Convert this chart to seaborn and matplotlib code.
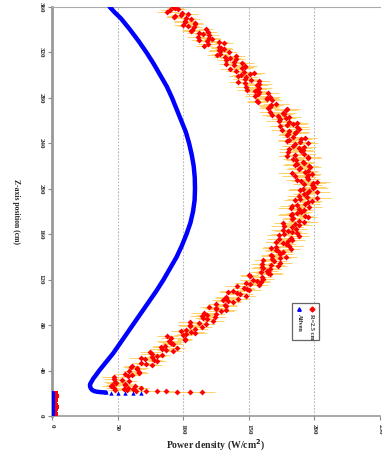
import matplotlib
matplotlib.use("Agg")
import matplotlib.pyplot as plt
import seaborn as sns
from matplotlib.patches import Rectangle

# ---- simulated profile (blue) ----
blue_wall_z = [0, 4, 8, 12, 16, 20.5]
blue_wall_v = [0.5, 0.5, 0.5, 0.5, 0.5, 0.5]

blue_edge_z = [20.0, 20.1, 20.2, 20.35, 20.5, 20.7]
blue_edge_v = [68, 62, 56, 50, 45, 41]

blue_z = [20.7, 21.0, 21.4, 22, 23, 24.5, 26, 28, 30, 33, 36, 40, 45, 50, 55, 60,
          70, 80, 90, 100, 110, 120, 130, 140, 150, 160, 170, 180, 190, 200,
          210, 220, 230, 240, 250, 260, 270, 280, 290, 300, 310, 320, 330, 340,
          350, 355, 360]
blue_v = [41, 37, 34, 32, 30.5, 29.5, 29, 29, 30, 31.5, 33.5, 36, 39.5, 43, 46.5, 49.5,
          55.5, 61.5, 67.5, 73.5, 79.5, 85, 90, 95, 99, 102.5, 105.5, 107.5, 108.7, 109,
          108.8, 108, 106.5, 104.5, 102, 98.5, 95, 91.5, 87.5, 82.5, 77.5, 72, 66, 59.5,
          52.5, 48, 44]

# ---- measured profile, R = 2.5 cm (red) ----
red_wall_z = [2, 4, 6, 8, 10, 12, 14, 16, 18, 20]
red_wall_v = [3, 2, 3, 4, 3, 2, 3, 3, 4, 3]

red_tail_z = [22.5, 22.2, 22.0, 21.8, 21.6, 21.4, 21.2, 21.0, 23.0, 23.5, 24.5, 25.0, 26.5, 27.0]
red_tail_v = [57, 64, 72, 80, 87, 95, 105, 114, 48, 62, 68, 58, 63, 46]
red_tail_err = [4, 5, 5, 6, 6, 7, 8, 10, 5, 6, 6, 5, 6, 5]

# scan A (even positions)
red_z = [24, 26, 28, 30, 32, 34, 36, 38, 40, 42,
         44, 46, 48, 50, 52, 54, 56, 58, 60, 62,
         64, 66, 68, 70, 72, 74, 76, 78, 80, 82,
         84, 86, 88, 90, 92, 94, 96, 98, 100, 102,
         104, 106, 108, 110, 112, 114, 116, 118, 120, 122,
         124, 126, 128, 130, 132, 134, 136, 138, 140, 142,
         144, 146, 148, 150, 152, 154, 156, 158, 160, 162,
         164, 166, 168, 170, 172, 174, 176, 178, 180, 182,
         184, 186, 188, 190, 192, 194, 196, 198, 200, 202,
         204, 206, 208, 210, 212, 214, 216, 218, 220, 222,
         224, 226, 228, 230, 232, 234, 236, 238, 240, 242,
         244, 246, 248, 250, 252, 254, 256, 258, 260, 262,
         264, 266, 268, 270, 272, 274, 276, 278, 280, 282,
         284, 286, 288, 290, 292, 294, 296, 298, 300, 302,
         304, 306, 308, 310, 312, 314, 316, 318, 320, 322,
         324, 326, 328, 330, 332, 334, 336, 338, 340, 342,
         344, 346, 348, 350, 352, 354, 356, 358, 360]
red_v = [55, 45, 56, 48, 53, 47, 61, 66, 59, 65,
         61, 72, 80, 71, 76, 84, 75, 87, 95, 86,
         91, 89, 101, 88, 102, 106, 102, 114, 105, 112,
         123, 115, 114, 125, 129, 125, 120, 132, 138, 130,
         133, 148, 141, 138, 149, 141, 151, 159, 153, 160,
         150, 165, 164, 161, 172, 160, 169, 168, 178, 167,
         176, 171, 167, 181, 176, 180, 173, 188, 177, 183,
         176, 183, 188, 176, 188, 184, 193, 183, 190, 188,
         196, 187, 195, 185, 202, 188, 194, 196, 191, 200,
         192, 202, 187, 194, 195, 183, 195, 189, 196, 187,
         191, 184, 195, 185, 180, 191, 188, 184, 195, 179,
         190, 184, 180, 186, 175, 187, 179, 187, 173, 178,
         172, 177, 166, 179, 166, 167, 157, 168, 164, 155,
         165, 155, 157, 148, 158, 142, 152, 148, 144, 154,
         140, 145, 147, 133, 139, 140, 132, 126, 135, 127,
         129, 116, 131, 118, 122, 111, 115, 119, 107, 108,
         100, 109, 101, 102, 94, 104, 88, 96, 92]
red_err = [5, 7, 6, 8, 5, 9, 6, 7, 5, 8,
           6, 8, 7, 5, 9, 6, 8, 7, 6, 9,
           7, 9, 6, 8, 7, 10, 6, 8, 9, 7,
           8, 6, 9, 7, 10, 8, 7, 9, 6, 8,
           9, 7, 8, 10, 6, 9, 8, 7, 10, 8,
           7, 10, 8, 9, 7, 8, 10, 6, 9, 8,
           8, 9, 7, 10, 8, 6, 9, 8, 10, 7,
           9, 8, 10, 7, 9, 8, 6, 10, 8, 9,
           10, 7, 9, 8, 11, 9, 7, 8, 10, 9,
           8, 10, 9, 7, 9, 11, 8, 9, 7, 10,
           9, 8, 10, 9, 7, 8, 10, 9, 8, 7,
           8, 9, 7, 10, 8, 9, 7, 8, 10, 8,
           9, 7, 8, 10, 7, 9, 8, 7, 9, 8,
           8, 9, 7, 8, 10, 7, 8, 9, 7, 8,
           7, 8, 9, 6, 8, 7, 9, 8, 6, 7,
           8, 6, 7, 9, 7, 8, 6, 7, 8, 6,
           7, 6, 8, 7, 6, 7, 8, 6, 5]

# scan B (odd positions)
red2_z = [25, 27, 29, 31, 33, 35, 37, 39, 41, 43,
          45, 47, 49, 51, 53, 55, 57, 59, 61, 63,
          65, 67, 69, 71, 73, 75, 77, 79, 81, 83,
          85, 87, 89, 91, 93, 95, 97, 99, 101, 103,
          105, 107, 109, 111, 113, 115, 117, 119, 121, 123,
          125, 127, 129, 131, 133, 135, 137, 139, 141, 143,
          145, 147, 149, 151, 153, 155, 157, 159, 161, 163,
          165, 167, 169, 171, 173, 175, 177, 179, 181, 183,
          185, 187, 189, 191, 193, 195, 197, 199, 201, 203,
          205, 207, 209, 211, 213, 215, 217, 219, 221, 223,
          225, 227, 229, 231, 233, 235, 237, 239, 241, 243,
          245, 247, 249, 251, 253, 255, 257, 259, 261, 263,
          265, 267, 269, 271, 273, 275, 277, 279, 281, 283,
          285, 287, 289, 291, 293, 295, 297, 299, 301, 303,
          305, 307, 309, 311, 313, 315, 317, 319, 321, 323,
          325, 327, 329, 331, 333, 335, 337, 339, 341, 343,
          345, 347, 349, 351, 353, 355, 357, 359]
red2_v = [47, 56, 49, 59, 47, 58, 56, 66, 65, 60,
          76, 68, 78, 68, 80, 76, 92, 84, 83, 92,
          90, 101, 91, 100, 109, 98, 109, 105, 117, 105,
          118, 124, 118, 116, 133, 125, 133, 125, 134, 142,
          133, 143, 134, 150, 146, 158, 148, 156, 161, 151,
          166, 159, 166, 160, 167, 174, 161, 174, 168, 174,
          172, 182, 171, 178, 171, 183, 182, 173, 187, 180,
          186, 177, 185, 192, 183, 195, 182, 187, 192, 182,
          183, 193, 198, 189, 194, 192, 202, 189, 199, 198,
          199, 190, 195, 185, 198, 193, 188, 197, 185, 192,
          186, 195, 179, 192, 190, 181, 192, 185, 189, 181,
          193, 179, 185, 181, 188, 174, 184, 181, 174, 181,
          168, 176, 178, 165, 166, 171, 156, 164, 166, 157,
          158, 149, 158, 156, 147, 158, 147, 142, 151, 146,
          136, 147, 139, 145, 133, 136, 140, 128, 128, 131,
          127, 119, 127, 112, 120, 120, 112, 106, 117, 104,
          109, 101, 106, 93, 98, 99, 90, 94]
red2_err = [6, 5, 8, 6, 7, 5, 9, 6, 7, 6,
            8, 7, 6, 9, 7, 8, 6, 9, 7, 8,
            9, 6, 8, 7, 9, 7, 10, 8, 7, 9,
            7, 9, 8, 10, 7, 9, 8, 6, 10, 8,
            8, 10, 7, 9, 8, 7, 9, 10, 8, 7,
            10, 8, 9, 7, 10, 9, 7, 8, 9, 10,
            9, 7, 10, 8, 9, 10, 8, 9, 7, 10,
            8, 10, 9, 11, 8, 7, 10, 9, 8, 10,
            9, 11, 8, 10, 9, 8, 10, 9, 11, 8,
            10, 8, 9, 10, 7, 9, 10, 8, 9, 8,
            8, 10, 7, 9, 10, 8, 9, 7, 10, 9,
            9, 7, 10, 8, 9, 8, 10, 9, 7, 9,
            8, 10, 9, 7, 8, 10, 7, 9, 8, 9,
            7, 8, 10, 9, 7, 8, 9, 7, 8, 9,
            8, 7, 6, 9, 7, 8, 7, 6, 9, 7,
            6, 8, 7, 6, 8, 7, 9, 7, 6, 8,
            6, 8, 7, 6, 7, 5, 7, 6]

x_ticks = [0, 50, 100, 150, 200, 250]
y_ticks = [0, 40, 80, 120, 160, 200, 240, 280, 320, 360]
legend_labels = ["Alfven", "R=2.5 cm"]

BLUE = "#0000FF"
RED = "#FF0000"
ERR = "#FFCC55"

sns.set_theme(style="white")
plt.rcParams["font.family"] = ["Liberation Serif", "DejaVu Serif"]
plt.rcParams["font.weight"] = "bold"

fig = plt.figure(figsize=(3.82, 4.57), dpi=100)
ax = fig.add_axes([52 / 382, 1 - 416 / 457, 328 / 382, 409 / 457])

# vertical dotted grid
for xv in x_ticks[1:-1]:
    ax.axvline(xv, color="#b5b5b5", lw=0.8, ls=(0, (1.5, 1.5)), zorder=0)

# measured data with horizontal error bars
all_v = red_tail_v + red_v + red2_v
all_z = red_tail_z + red_z + red2_z
all_err = red_tail_err + red_err + red2_err
ax.errorbar(all_v, all_z, xerr=all_err, fmt="none", ecolor=ERR,
            elinewidth=0.6, capsize=0, zorder=2)
sns.scatterplot(x=all_v, y=all_z, ax=ax, color=RED, marker="D", s=9,
                linewidth=0, zorder=3)
sns.scatterplot(x=red_wall_v, y=red_wall_z, ax=ax, color=RED, marker="s",
                s=6, linewidth=0, zorder=3)

# simulated profile
sns.lineplot(x=blue_v, y=blue_z, ax=ax, sort=False, estimator=None,
             color=BLUE, lw=3.2, zorder=4)
sns.lineplot(x=blue_wall_v, y=blue_wall_z, ax=ax, sort=False, estimator=None,
             color=BLUE, lw=3.0, zorder=4)
sns.scatterplot(x=blue_edge_v, y=blue_edge_z, ax=ax, color=BLUE, marker="^",
                s=10, linewidth=0, zorder=4)

ax.set_xlim(0, 250)
ax.set_ylim(0, 360)
ax.set_xticks(x_ticks)
ax.set_yticks(y_ticks)
ax.set_xticklabels([str(t) for t in x_ticks], rotation=-90, fontsize=5, fontweight="bold")
ax.set_yticklabels([str(t) for t in y_ticks], rotation=-90, fontsize=5, fontweight="bold",
                   va="center")
ax.tick_params(axis="both", which="both", length=3, width=0.8, color="#888888",
               pad=3, bottom=True, left=True)

for side in ["left", "bottom"]:
    ax.spines[side].set_color("#999999")
ax.spines["left"].set_linewidth(2.0)
ax.spines["bottom"].set_linewidth(1.2)
ax.spines["top"].set_color("#aaaaaa")
ax.spines["top"].set_linewidth(0.8)
ax.spines["right"].set_visible(False)

ax.set_xlabel("Power density (W/cm$^{2}$)", fontsize=7, fontweight="bold", labelpad=2)
ax.set_ylabel("Z-axis position (cm)", fontsize=5.5, fontweight="bold", rotation=-90,
              labelpad=16, va="center")

# legend box with vertically written entries
lx0, ly0 = (292 - 52) / 328, (416 - 340) / 409
lw_, lh_ = 27 / 328, 37 / 409
ax.add_patch(Rectangle((lx0, ly0), lw_, lh_, transform=ax.transAxes,
                       facecolor="white", edgecolor="#666666", lw=0.9, zorder=6))
for i, (lab, col, mk) in enumerate(zip(legend_labels, [BLUE, RED], ["^", "D"])):
    cx = lx0 + (7 + i * 13) / 328
    ax.plot([cx], [ly0 + lh_ - 6 / 409], marker=mk, color=col, ms=2.5,
            transform=ax.transAxes, zorder=7, clip_on=False)
    ax.text(cx, ly0 + lh_ - 11 / 409, lab, transform=ax.transAxes, rotation=-90,
            fontsize=4.5, fontweight="bold", ha="center", va="top", zorder=7)

fig.savefig("out.png", dpi=100, facecolor="white")
